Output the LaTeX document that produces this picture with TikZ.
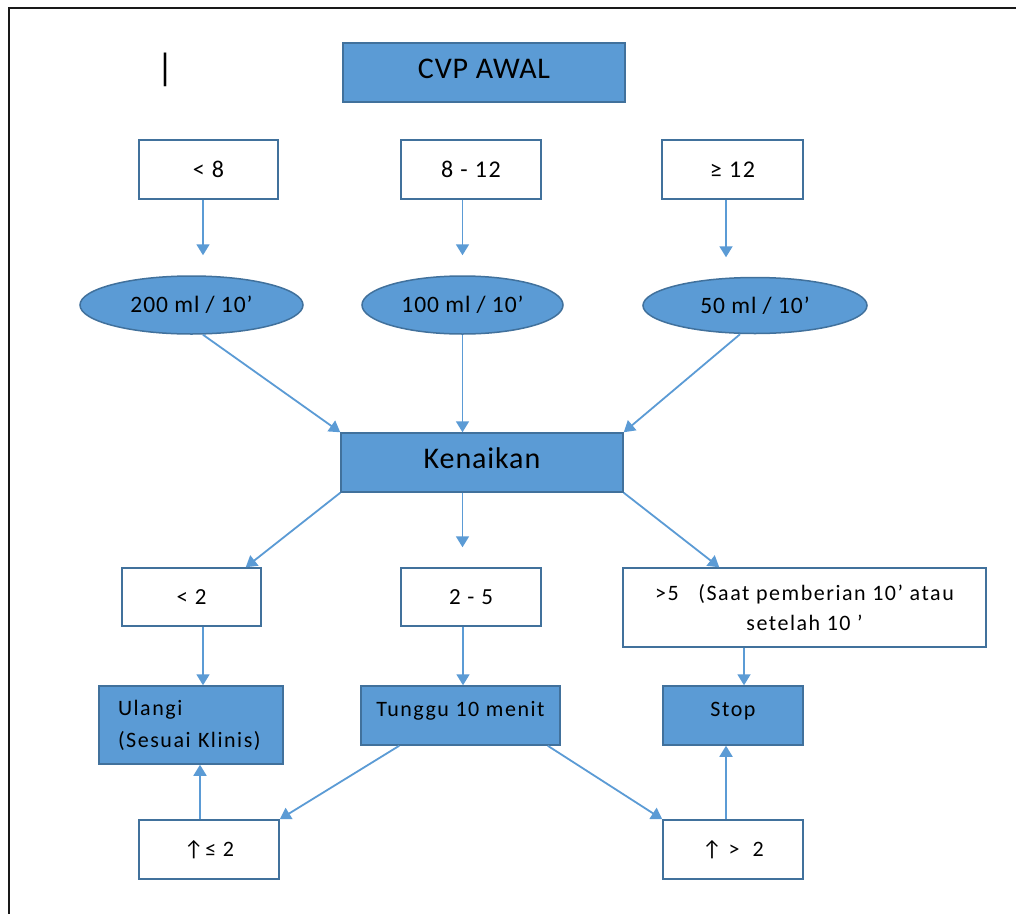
\documentclass[tikz,border=0pt]{standalone}
\usepackage{fontspec}
\setmainfont{Carlito}
\newfontfamily\labelfam[LetterSpace=7]{Carlito}
\newfontfamily\dosefam[LetterSpace=4]{Carlito}
\newfontfamily\titlefam[LetterSpace=3]{Carlito}
\usetikzlibrary{arrows.meta,shapes.geometric}
\definecolor{boxfill}{HTML}{5B9BD5}
\definecolor{boxline}{HTML}{41719C}
\definecolor{flowline}{HTML}{5B9BD5}
\begin{document}
\begin{tikzpicture}[x=1pt,y=-1pt,
  every node/.style={inner sep=0pt, text=black},
  plainbox/.style={draw=boxline, line width=1.5pt, fill=white, minimum width=#1, minimum height=59pt, font=\labelfam\fontsize{24}{28}\selectfont},
  plainbox/.default=140pt,
  bluebox/.style={draw=boxline, line width=1.5pt, fill=boxfill, minimum width=#1, minimum height=59pt},
  bluebox/.default=140pt,
  dose/.style={ellipse, draw=boxline, line width=1.5pt, fill=boxfill, minimum height=58pt, font=\dosefam\fontsize{23.5}{28}\selectfont},
  bigtext/.style={font=\titlefam\fontsize{30}{34}\selectfont},
  midtext/.style={font=\labelfam\fontsize{22}{32}\selectfont},
  arr/.style={draw=flowline, line width=1.8pt, -{Triangle[width=13pt,length=11pt]}}
]
\useasboundingbox (0,0) rectangle (1016,913);
\fill[white] (0,0) rectangle (1016,913);
% page frame
\begin{scope}
\clip (0,0) rectangle (1016,913);
\draw[line width=2.5pt, black!90] (9,940) -- (9,8) -- (1040,8);
\end{scope}

% cursor mark
\node (cursor) at (165,69.5) {\fontsize{38}{42}\selectfont |};

% header
\node[bluebox=282pt, bigtext, text depth=7pt] (cvp) at (484,72.5) {CVP AWAL};

% initial CVP ranges
\node[plainbox=139pt] (lt8) at (208.5,169.5) {< 8};
\node[plainbox=140pt] (m812) at (471,169.5) {8 - 12};
\node[plainbox=141pt] (ge12) at (732.5,169.5) {≥ 12};

% fluid challenge volumes
\node[dose, minimum width=223pt] (e200) at (191.5,305) {200 ml / 10’};
\node[dose, minimum width=201pt] (e100) at (462.5,305) {100 ml / 10’};
\node[dose, minimum width=224pt, minimum height=56pt] (e50) at (755,305.5) {50 ml / 10’};

% rise in CVP
\node[bluebox=282pt, bigtext, text depth=8pt] (ken) at (482,462.5) {Kenaikan};

% rise ranges
\node[plainbox=139pt, minimum height=58pt, font=\labelfam\fontsize{23}{26}\selectfont] (lt2) at (191.5,597) {< 2};
\node[plainbox=140pt, minimum height=58pt, font=\labelfam\fontsize{23}{26}\selectfont] (r25) at (471,597) {2 - 5};
\node[plainbox=363pt, minimum height=79pt, font=\labelfam\fontsize{22}{30}\selectfont, align=center] (gt5) at (804.5,607.5)
  {>5\ \ \ (Saat pemberian 10’ atau\\setelah 10 ’};

% actions
\node[bluebox=184pt, minimum height=78pt, midtext, align=left, text width=146pt, inner xsep=19pt] (ulangi) at (191,725)
  {Ulangi\\(Sesuai Klinis)};
\node[bluebox=199pt, font=\labelfam\fontsize{22}{26}\selectfont, text height=14pt, text depth=12.5pt] (tunggu) at (460.5,715.5) {Tunggu 10 menit};
\node[bluebox=140pt, font=\labelfam\fontsize{22}{26}\selectfont, text height=14pt, text depth=12.5pt] (stop) at (733,715.5) {Stop};

% re-check after waiting
\node[plainbox=140pt, font=\labelfam\fontsize{22}{26}\selectfont] (le2) at (209,849.5) {↑≤ 2};
\node[plainbox=140pt, font=\labelfam\fontsize{22}{26}\selectfont] (gt2) at (733,849.5) {↑ >\ \ 2};

% range -> volume
\draw[arr, shorten >=20pt] ([xshift=-5.5pt]lt8.south) -- ([xshift=-5.5pt]lt8.south |- e200.north);
\draw[arr, shorten >=20pt] (e100.north |- m812.south) -- (e100.north);
\draw[arr, shorten >=19.5pt] ([xshift=-6.5pt]ge12.south) -- ([xshift=-6.5pt]ge12.south |- e50.north);

% volume -> rise
\draw[arr] ([xshift=11.5pt]e200.south) -- (ken.north west);
\draw[arr] (e100.south) -- (e100.south |- ken.north);
\draw[arr] ([xshift=-15pt]e50.south) -- (ken.north east);

% rise -> ranges
\draw[arr] (ken.south west) -- ([xshift=-16pt]lt2.north east);
\draw[arr, shorten >=20pt] (e100.south |- ken.south) -- (e100.south |- r25.north);
\draw[arr] (ken.south east) -- ([xshift=97pt]gt5.north west);

% ranges -> actions
\draw[arr] ([xshift=11.5pt]lt2.south) -- ([xshift=11.5pt]lt2.south |- ulangi.north);
\draw[arr] ([xshift=-8pt]r25.south) -- ([xshift=-8pt]r25.south |- tunggu.north);
\draw[arr] ([xshift=11pt]stop.north |- gt5.south) -- ([xshift=11pt]stop.north);

% waiting -> re-check
\draw[arr] ([xshift=39pt]tunggu.south west) -- (le2.north east);
\draw[arr] ([xshift=-13pt]tunggu.south east) -- (gt2.north west);

% re-check -> actions
\draw[arr] ([xshift=-9pt]le2.north) -- ([xshift=-9pt]le2.north |- ulangi.south);
\draw[arr] ([xshift=-7pt]gt2.north) -- ([xshift=-7pt]gt2.north |- stop.south);
\end{tikzpicture}
\end{document}
